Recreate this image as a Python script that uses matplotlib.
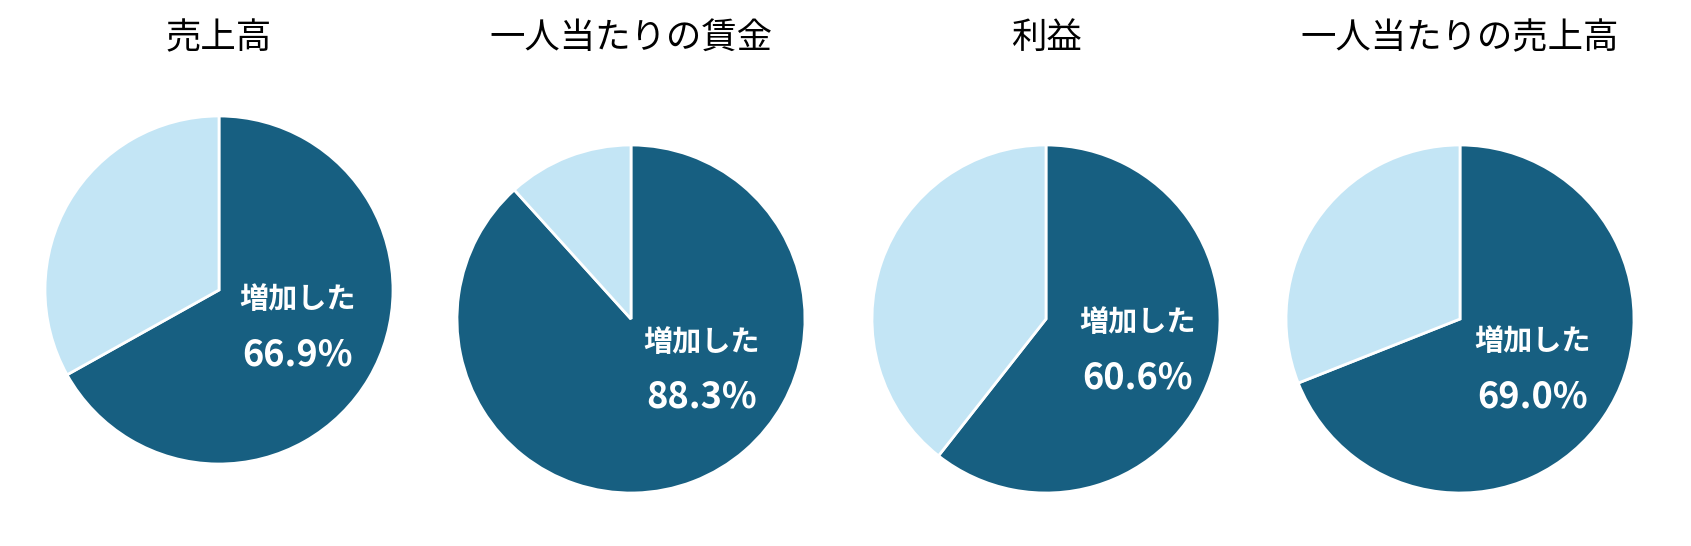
import matplotlib
matplotlib.use('agg')

import matplotlib.pyplot as plt

plt.rcParams['font.family'] = ['Noto Sans CJK JP', 'DejaVu Sans']

# data
titles = ["売上高", "一人当たりの賃金", "利益", "一人当たりの売上高"]
increased = [66.9, 88.3, 60.6, 69.0]
label_text = "増加した"

# layout (pixels)
W, H = 1691, 546
centers = [(219, 290), (631, 319), (1046, 319), (1460, 319)]
radius_px = 174
# label offsets in pie units: (dx, dy of label, dy of percent)
label_pos = [(0.45, -0.05, -0.375), (0.405, -0.13, -0.45),
             (0.525, -0.015, -0.34), (0.415, -0.125, -0.45)]

dark = "#175F81"
light = "#C3E5F5"

fig = plt.figure(figsize=(W / 100, H / 100), dpi=100)

for i in range(len(titles)):
    cx, cy = centers[i]
    r = radius_px
    ax = fig.add_axes([(cx - r) / W, 1 - (cy + r) / H, 2 * r / W, 2 * r / H])
    v = increased[i]
    ax.pie([v, 100 - v], startangle=90, counterclock=False,
           colors=[dark, light],
           wedgeprops=dict(edgecolor='white', linewidth=2))
    ax.set_xlim(-1, 1)
    ax.set_ylim(-1, 1)
    ax.axis('off')

    dx, dy1, dy2 = label_pos[i]
    ax.text(dx, dy1, label_text, color='white', fontsize=21, fontweight='bold',
            ha='center', va='center')
    ax.text(dx, dy2, "%.1f%%" % v, color='white', fontsize=26, fontweight='bold',
            ha='center', va='center')

    fig.text(cx / W, 1 - 38 / H, titles[i], fontsize=25.5, ha='center', va='center')

fig.savefig("out.png", dpi=100, facecolor='white')
